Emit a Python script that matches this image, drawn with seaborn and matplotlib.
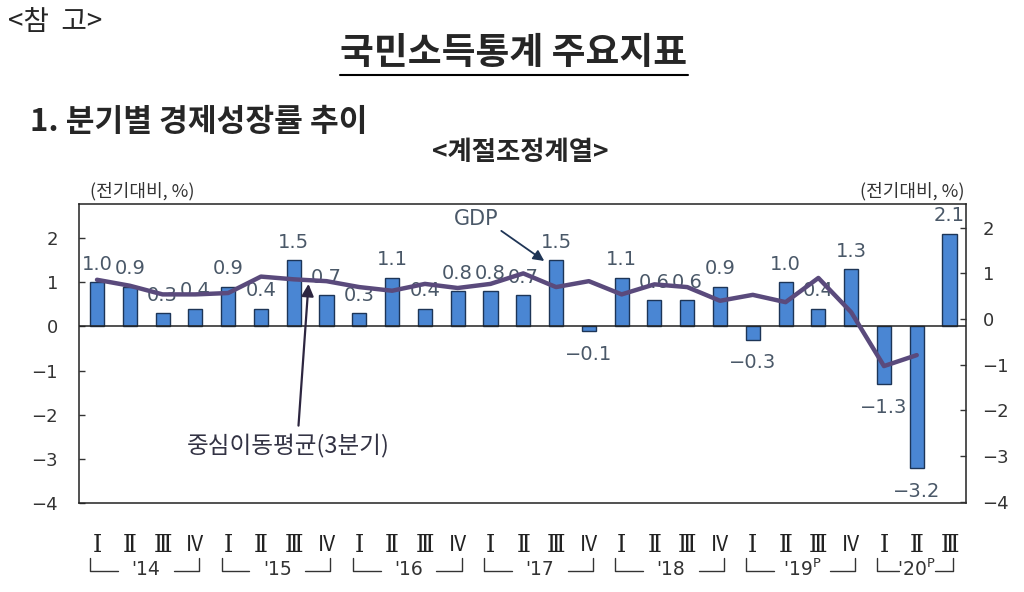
import numpy as np
import pandas as pd
import matplotlib
matplotlib.use('Agg')
import matplotlib.pyplot as plt
import matplotlib.transforms as mtransforms
from matplotlib.lines import Line2D
import seaborn as sns

# 분기별 경제성장률 (계절조정, 전기대비 %)
periods = ['14Q1', '14Q2', '14Q3', '14Q4', '15Q1', '15Q2', '15Q3', '15Q4',
           '16Q1', '16Q2', '16Q3', '16Q4', '17Q1', '17Q2', '17Q3', '17Q4',
           '18Q1', '18Q2', '18Q3', '18Q4', '19Q1', '19Q2', '19Q3', '19Q4',
           '20Q1', '20Q2', '20Q3']
quarter_labels = ['Ⅰ', 'Ⅱ', 'Ⅲ', 'IV'] * 6 + ['Ⅰ', 'Ⅱ', 'Ⅲ']
gdp = [1.0, 0.9, 0.3, 0.4, 0.9, 0.4, 1.5, 0.7, 0.3, 1.1, 0.4, 0.8, 0.8, 0.7,
       1.5, -0.1, 1.1, 0.6, 0.6, 0.9, -0.3, 1.0, 0.4, 1.3, -1.3, -3.2, 2.1]
# 중심이동평균(3분기), '14 I ~ '20 II
ma3 = [0.86, 0.73, 0.54, 0.54, 0.57, 0.93, 0.87, 0.83, 0.70, 0.62, 0.77, 0.68,
       0.77, 1.00, 0.70, 0.83, 0.54, 0.76, 0.70, 0.40, 0.53, 0.37, 0.90, 0.15,
       -1.03, -0.79]
years = ["'14", "'15", "'16", "'17", "'18", r"'19$^{\rm P}$", r"'20$^{\rm P}$"]
quarters_per_year = [4, 4, 4, 4, 4, 4, 3]

df = pd.DataFrame({'period': periods, 'gdp': gdp})
df_ma = pd.DataFrame({'pos': np.arange(len(ma3)), 'ma3': ma3})

sns.set_style('white')
plt.rcParams['font.family'] = ['Noto Sans CJK KR', 'DejaVu Sans']

bar_color = '#4a86d3'
edge_color = '#1d3557'
line_color = '#5a4a7c'
label_color = '#4a5868'
tick_color = '#333333'
num_font = ['DejaVu Sans']

fig = plt.figure(figsize=(10.24, 5.92), dpi=100)
ax = fig.add_axes([0.0771, 0.1503, 0.8662, 0.5051])

sns.barplot(data=df, x='period', y='gdp', order=periods, color=bar_color,
            edgecolor=edge_color, linewidth=1, width=0.43, saturation=1, ax=ax)
ax.axhline(0, color='#222222', lw=1.1, zorder=3)

ax.set_xlim(-0.55, 26.5)
ax.set_ylim(-4.0, 2.77)
ax.set_yticks(range(-4, 3))
ax.set_xlabel('')
ax.set_ylabel('')
ax.set_xticks(range(len(periods)))
ax.set_xticklabels(quarter_labels)
ax.tick_params(axis='x', length=0, pad=22, labelsize=15, colors='#222222')
ax.tick_params(axis='y', direction='in', length=4, width=1, pad=15,
               labelsize=13, colors=tick_color)
for lab in ax.get_xticklabels():
    if lab.get_text() != 'IV':
        lab.set_fontfamily(['DejaVu Serif', 'Noto Sans CJK KR'])
        lab.set_fontsize(17)
for lab in ax.get_yticklabels():
    lab.set_fontfamily(num_font)
for s in ax.spines.values():
    s.set_color('#222222')
    s.set_linewidth(1.1)

# 막대 값 표시
for p, v in zip(ax.patches, gdp):
    x = p.get_x() + p.get_width() / 2
    txt = f'{v:.1f}'.replace('-', '−')
    if v >= 0:
        ax.annotate(txt, (x, v), xytext=(0, 6), textcoords='offset points',
                    ha='center', va='bottom', fontsize=14, color=label_color,
                    family=num_font)
    else:
        ax.annotate(txt, (x, v), xytext=(0, -10), textcoords='offset points',
                    ha='center', va='top', fontsize=14, color=label_color,
                    family=num_font)

# 우측 축: 중심이동평균
ax2 = ax.twinx()
sns.lineplot(data=df_ma, x='pos', y='ma3', color=line_color, lw=3.2, ax=ax2)
ax2.set_ylim(-4.03, 2.52)
ax2.set_yticks(range(-4, 3))
ax2.set_ylabel('')
ax2.tick_params(axis='y', direction='in', length=4, width=1, pad=12,
                labelsize=13, colors=tick_color)
for lab in ax2.get_yticklabels():
    lab.set_fontfamily(num_font)
for s in ax2.spines.values():
    s.set_visible(False)

# 연도 구분 괄호
trans = mtransforms.blended_transform_factory(ax.transData, ax.transAxes)
ends = np.cumsum(quarters_per_year)
starts = ends - np.array(quarters_per_year)
for yr, i0, i1 in zip(years, starts, ends - 1):
    left, right = i0 - 0.2, i1 + 0.12
    mid = (i0 + i1) / 2
    half = 0.55 if i1 - i0 < 3 else 0.85
    kw = dict(color='#333333', lw=1, transform=trans, clip_on=False)
    ax.plot([left, left, mid - half], [-0.185, -0.228, -0.228], **kw)
    ax.plot([mid + half, right, right], [-0.228, -0.228, -0.185], **kw)
    ax.text(mid, -0.222, yr, transform=trans, ha='center', va='center',
            fontsize=13.5, color='#333333', family=num_font)

# 주석
ax.annotate('GDP', xy=(14 - 0.36, gdp[14] - 0.02), xytext=(11.55, 2.43),
            ha='center', va='center', fontsize=15, color=label_color,
            family=num_font,
            arrowprops=dict(arrowstyle='-|>', color='#1f3556', lw=1.3,
                            mutation_scale=16, relpos=(0.95, 0.1),
                            shrinkA=0, shrinkB=0))
ax2.annotate('중심이동평균(3분기)', xy=(6.45, ma3[6] - 0.1), xytext=(5.82, -2.76),
             ha='center', va='center', fontsize=17, color='#333344',
             arrowprops=dict(arrowstyle='-|>', color='#2d2640', lw=1.6,
                             mutation_scale=18, relpos=(0.55, 1.0),
                             shrinkA=3, shrinkB=0))

# 상단 텍스트
fig.text(0.0078, 0.963, '<참  고>', fontsize=20, va='center', ha='left')
title = fig.text(0.502, 0.909, '국민소득통계 주요지표', fontsize=26.5,
                 fontweight='bold', ha='center', va='center')
fig.text(0.029, 0.794, '1. 분기별 경제성장률 추이', fontsize=22.5,
         fontweight='bold', ha='left', va='center')
fig.text(0.508, 0.742, '<계절조정계열>', fontsize=19, fontweight='bold',
         ha='center', va='center')
fig.text(0.088, 0.677, '(전기대비, %)', fontsize=13, ha='left',
         va='center', color='#333333')
fig.text(0.942, 0.677, '(전기대비, %)', fontsize=13, ha='right',
         va='center', color='#333333')

# 제목 밑줄
fig.canvas.draw()
bb = title.get_window_extent(fig.canvas.get_renderer()).transformed(
    fig.transFigure.inverted())
fig.add_artist(Line2D([bb.x0, bb.x1], [bb.y0 - 0.004, bb.y0 - 0.004],
                      transform=fig.transFigure, color='black', lw=1.5))

fig.savefig('out.png', dpi=100)
